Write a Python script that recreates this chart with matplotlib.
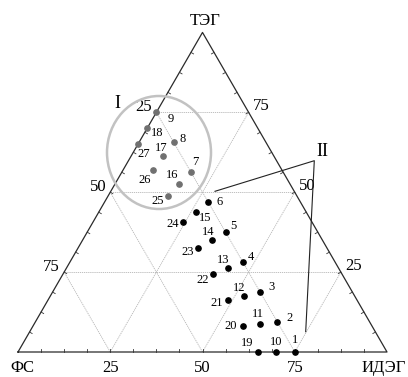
import numpy as np
import matplotlib
matplotlib.use("Agg")
import matplotlib.pyplot as plt
from matplotlib.patches import Ellipse

plt.rcParams['font.family'] = ['Liberation Serif', 'DejaVu Serif']

# ---- data (ternary compositions, %): ФС, ИДЭГ, ТЭГ ----
point_ids = list(range(1, 28))
fs_vals = [25] * 9 + [30] * 9 + [35] * 9
teg_vals = [0, 9.4, 18.8, 28.1, 37.5, 46.9, 56.3, 65.6, 75,
            0, 8.75, 17.5, 26.25, 35, 43.75, 52.5, 61.25, 70,
            0, 8.1, 16.3, 24.4, 32.5, 40.6, 48.75, 56.9, 65]
ideg_vals = [100 - f - t for f, t in zip(fs_vals, teg_vals)]
# region I: points 7-9, 16-18, 25-27 (grey); region II: others (black)
region_I = [7, 8, 9, 16, 17, 18, 25, 26, 27]

vertex_labels = ['ФС', 'ИДЭГ', 'ТЭГ']
tick_vals = [25, 50, 75]

# label offsets (pixels: dx right, dy down)
label_off = {1: (0, -12), 2: (12, -4), 3: (11, -5), 4: (8, -5), 5: (8, -6), 6: (11, 0),
             7: (4, -10), 8: (9, -3), 9: (14, 7),
             10: (0, -10), 11: (-2, -10), 12: (-5, -8), 13: (-5, -8), 14: (-4, -8),
             15: (10, 6), 16: (-7, -9), 17: (-2, -8), 18: (10, 5),
             19: (-11, -9), 20: (-12, 0), 21: (-11, 3), 22: (-10, 6), 23: (-10, 4),
             24: (-10, 2), 25: (-10, 5), 26: (-8, 10), 27: (6, 10)}

H = np.sqrt(3) / 2


def tern(ideg, teg):
    return (ideg + teg / 2.0) / 100.0, teg / 100.0 * H


W, Hpx = 408, 377
S = 369.0  # px per unit side
x0, y0 = 18.0, 352.0  # px position of ФС vertex (from top)

fig = plt.figure(figsize=(W / 100, Hpx / 100), dpi=100)
ax = fig.add_axes([0, 0, 1, 1])
ax.set_xlim(-x0 / S, (W - x0) / S)
ax.set_ylim(-(Hpx - y0) / S, y0 / S)
ax.axis('off')


def px(xp, yp):
    return (xp - x0) / S, (y0 - yp) / S


# grid lines
gkw = dict(color='#b5b5b5', lw=0.6, ls=(0, (1.5, 1)), zorder=1)
for v in tick_vals:
    # constant ТЭГ
    a = tern(100 - v, v); b = tern(0, v)
    ax.plot([a[0], b[0]], [a[1], b[1]], **gkw)
    # constant ИДЭГ
    a = tern(v, 0); b = tern(v, 100 - v)
    ax.plot([a[0], b[0]], [a[1], b[1]], **gkw)
    # constant ФС
    a = tern(100 - v, 0); b = tern(0, 100 - v)
    ax.plot([a[0], b[0]], [a[1], b[1]], **gkw)

# triangle
tri = np.array([tern(0, 0), tern(100, 0), tern(0, 100), tern(0, 0)])
ax.plot(tri[:, 0], tri[:, 1], color='#2a2a2a', lw=0.9, zorder=2)

# ticks
tl = 3.0 / S
for t in np.arange(6.25, 100, 6.25):
    # bottom
    x, y = tern(t, 0)
    ax.plot([x, x], [y, y + tl], color='#333333', lw=0.6, zorder=2)
    # left side (inward normal)
    x, y = tern(0, t)
    n = np.array([np.sqrt(3) / 2, -0.5])
    ax.plot([x, x + n[0] * tl], [y, y + n[1] * tl], color='#333333', lw=0.6, zorder=2)
    # right side
    x, y = tern(100 - t, t)
    n = np.array([-np.sqrt(3) / 2, -0.5])
    ax.plot([x, x + n[0] * tl], [y, y + n[1] * tl], color='#333333', lw=0.6, zorder=2)

# tick labels
fs_ax = 12
for v in tick_vals:
    x, y = tern(v, 0)
    ax.text(x, y - 16 / S, str(v), ha='center', va='center', fontsize=fs_ax)
    # left side: ФС values (ФС = 100 - ТЭГ at ИДЭГ=0)
    x, y = tern(0, 100 - v)
    ax.text(x - 4 / S, y + 5 / S, str(v), ha='right', va='center', fontsize=fs_ax)
    # right side: ТЭГ values
    x, y = tern(100 - v, v)
    ax.text(x + 4 / S, y + 6 / S, str(v), ha='left', va='center', fontsize=fs_ax)

# vertex labels
ax.text(*px(22, 368), vertex_labels[0], ha='center', va='center', fontsize=fs_ax)
ax.text(*px(384, 368), vertex_labels[1], ha='center', va='center', fontsize=fs_ax)
ax.text(*px(205, 21), vertex_labels[2], ha='center', va='center', fontsize=fs_ax)

# points
for pid, f, i, t in zip(point_ids, fs_vals, ideg_vals, teg_vals):
    x, y = tern(i, t)
    col = '#707070' if pid in region_I else 'black'
    ax.plot(x, y, 'o', ms=3.8, color=col, mec=col, zorder=4)
    dx, dy = label_off[pid]
    ax.annotate(str(pid), (x, y), xytext=(dx * 0.72, -dy * 0.72), textcoords='offset points',
                ha='center', va='center', fontsize=9, zorder=5)

# region I ellipse
cx, cy = px(159, 152.5)
ax.add_patch(Ellipse((cx, cy), 104 / S, 113 / S, fill=False, ec='#c2c2c2', lw=1.8, zorder=3))
ax.text(*px(117, 103), 'I', ha='center', va='center', fontsize=13)

# region II bracket
apex = px(314.3, 160.7)
e1 = px(215, 191.3)
e2 = px(305.7, 331.7)
ax.plot([e1[0], apex[0], e2[0]], [e1[1], apex[1], e2[1]], color='#222222', lw=0.8, zorder=3)
ax.text(*px(322, 151), 'II', ha='center', va='center', fontsize=13)

fig.savefig('out.png', dpi=100)
